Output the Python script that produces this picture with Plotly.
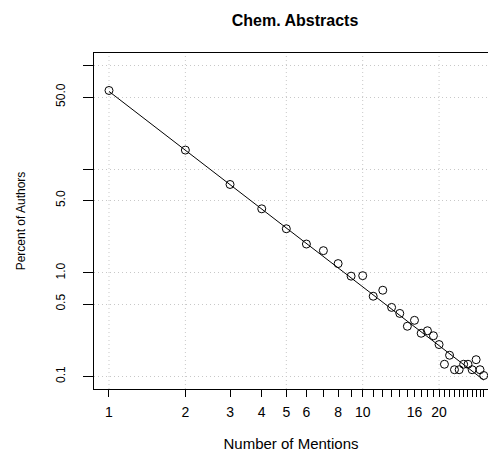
import numpy as np
import plotly.graph_objects as go

# Data: number of mentions and percent of authors (Chem. Abstracts)
mentions = list(range(1, 31))
percent_authors = [57.9, 15.37, 7.15, 4.16, 2.67, 1.90, 1.64, 1.23, 0.93, 0.94,
                   0.595, 0.68, 0.464, 0.406, 0.305, 0.348, 0.261, 0.276, 0.247, 0.203,
                   0.131, 0.160, 0.116, 0.116, 0.131, 0.131, 0.116, 0.145, 0.116, 0.102]

# Fitted power law (Lotka): percent = C * n^(-k)
fit_C = 56.69
fit_k = 1.888

x_tick_vals = list(range(1, 31))
x_tick_labeled = {1: "1", 2: "2", 3: "3", 4: "4", 5: "5", 6: "6", 8: "8", 10: "10", 16: "16", 20: "20"}
x_tick_text = [x_tick_labeled.get(v, "") for v in x_tick_vals]
x_grid_vals = [1, 2, 5, 10, 20]

y_tick_vals = [0.1, 0.5, 1, 5, 10, 50, 100]
y_tick_text = ["0.1", "0.5", "1.0", "5.0", "", "50.0", ""]

fit_x = np.array(mentions, dtype=float)
fit_y = fit_C * fit_x ** (-fit_k)

FONT = "Liberation Sans, Arial, sans-serif"
GRID_DASH = "1px,3px"
GRID_COLOR = "#c8c8c8"

fig = go.Figure()
fig.add_trace(go.Scatter(x=fit_x, y=fit_y, mode="lines",
                         line=dict(color="black", width=1), hoverinfo="skip"))
fig.add_trace(go.Scatter(x=mentions, y=percent_authors, mode="markers",
                         marker=dict(symbol="circle-open", size=8, color="black",
                                     line=dict(width=1, color="black"))))

for gx in x_grid_vals:
    fig.add_shape(type="line", xref="x", yref="paper", x0=gx, x1=gx, y0=0, y1=1,
                  line=dict(color=GRID_COLOR, width=1, dash=GRID_DASH), layer="below")

fig.update_layout(
    width=488, height=452,
    margin=dict(l=94, r=0, t=53, b=63, autoexpand=False),
    paper_bgcolor="white", plot_bgcolor="white",
    showlegend=False,
    font=dict(family=FONT, color="black", size=12),
    title=dict(text="<b>Chem. Abstracts</b>", x=295 / 488, xref="container", xanchor="center",
               y=1 - 20 / 452, yref="container", yanchor="middle",
               font=dict(size=16, family=FONT, color="black")),
    xaxis=dict(type="log", range=[-0.0591, 1.4939], automargin=False,
               tickmode="array", tickvals=x_tick_vals, ticktext=x_tick_text,
               ticks="outside", ticklen=7, tickwidth=1, tickcolor="black",
               showline=True, linecolor="black", linewidth=1, mirror=True,
               showgrid=False, zeroline=False,
               tickfont=dict(size=14, family=FONT, color="black"),
               ticklabelstandoff=3,
               title=dict(text="Number of Mentions", standoff=22,
                          font=dict(size=15, family=FONT, color="black"))),
    yaxis=dict(type="log", range=[-1.1219, 2.1247], automargin=False,
               tickmode="array", tickvals=y_tick_vals, ticktext=y_tick_text,
               ticks="outside", ticklen=10, tickwidth=1, tickcolor="black",
               tickangle=-90,
               showline=True, linecolor="black", linewidth=1, mirror=False,
               showgrid=True, gridcolor=GRID_COLOR, griddash=GRID_DASH, gridwidth=1,
               zeroline=False,
               tickfont=dict(size=12, family=FONT, color="black"),
               ticklabelstandoff=13,
               title=dict(text="Percent of Authors", standoff=26,
                          font=dict(size=12, family=FONT, color="black"))),
)

fig.write_html("out.html", config={"displayModeBar": False},
               post_script="document.body.style.margin='0';")
